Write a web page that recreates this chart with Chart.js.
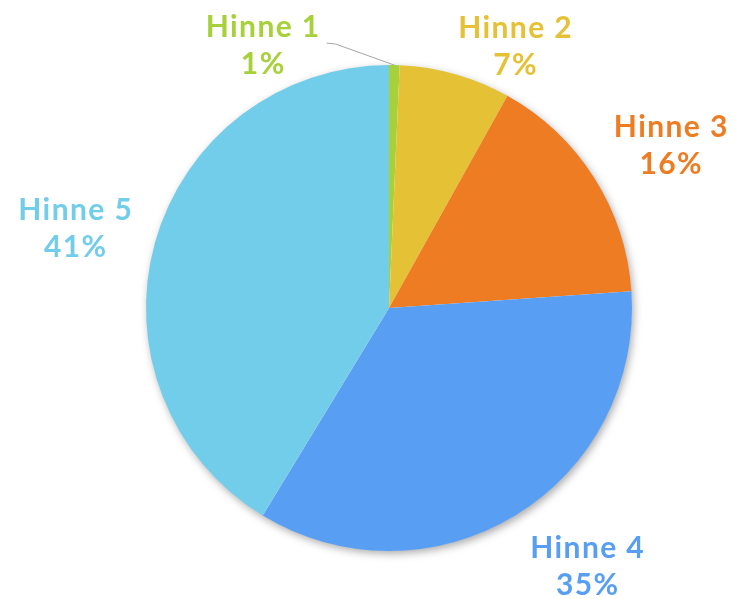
<!DOCTYPE html>
<html>
<head>
<meta charset="utf-8">
<script src="https://cdn.jsdelivr.net/npm/chart.js@4"></script>
<style>
  html, body { margin: 0; padding: 0; background: #ffffff; }
  #wrap { width: 736px; height: 599px; position: relative; }
</style>
</head>
<body>
<div id="wrap"><canvas id="c"></canvas></div>
<script>
// ---- data ----
const categories = ['Hinne 1', 'Hinne 2', 'Hinne 3', 'Hinne 4', 'Hinne 5'];
const shares = [0.7, 7.4, 15.8, 34.8, 41.3];
const percentLabels = ['1%', '7%', '16%', '35%', '41%'];
const sliceColors = ['#a6d13b', '#e5c135', '#ee7c23', '#589ff3', '#72cdeb'];

// ---- label layout (not data) ----
const labelLayout = {
  gap: 28,
  lineHeight: 37,
  font: 'bold 30px Lato, "Open Sans", sans-serif',
  letterSpacing: '1.4px',
  nudge: [[-133, 46], [37, 35], [5, 3], [28, -4], [3, 4]],
  leaderColor: '#a6a6a6'
};

const shadowPlugin = {
  id: 'pieShadow',
  beforeDatasetsDraw(chart) {
    const arc = chart.getDatasetMeta(0).data[0];
    if (!arc) return;
    const p = arc.getProps(['x', 'y', 'outerRadius'], true);
    const ctx = chart.ctx;
    ctx.save();
    ctx.shadowColor = 'rgba(0,0,0,0.35)';
    ctx.shadowBlur = 9;
    ctx.shadowOffsetX = 2;
    ctx.shadowOffsetY = 3;
    ctx.fillStyle = '#ffffff';
    ctx.beginPath();
    ctx.arc(p.x, p.y, p.outerRadius - 0.5, 0, Math.PI * 2);
    ctx.fill();
    ctx.restore();
  }
};

const labelPlugin = {
  id: 'outLabels',
  afterDatasetsDraw(chart) {
    const ctx = chart.ctx;
    const meta = chart.getDatasetMeta(0);
    ctx.save();
    ctx.font = labelLayout.font;
    if ('letterSpacing' in ctx) ctx.letterSpacing = labelLayout.letterSpacing;
    ctx.textAlign = 'center';
    ctx.textBaseline = 'middle';
    meta.data.forEach((arc, i) => {
      const p = arc.getProps(['x', 'y', 'startAngle', 'endAngle', 'outerRadius'], true);
      const mid = (p.startAngle + p.endAngle) / 2;
      const ux = Math.cos(mid), uy = Math.sin(mid);
      const l1 = categories[i], l2 = percentLabels[i];
      const w = Math.max(ctx.measureText(l1).width, ctx.measureText(l2).width);
      const h = labelLayout.lineHeight * 2;
      const px = p.x + (p.outerRadius + labelLayout.gap) * ux;
      const py = p.y + (p.outerRadius + labelLayout.gap) * uy;
      const cx = px + ux * w / 2 + labelLayout.nudge[i][0];
      const cy = py + uy * h / 2 + labelLayout.nudge[i][1];
      const frac = (p.endAngle - p.startAngle) / (Math.PI * 2);
      if (frac < 0.02) {
        const ex = p.x + p.outerRadius * ux;
        const ey = p.y + p.outerRadius * uy;
        const sx = cx + ctx.measureText(l1).width / 2 + 6;
        const sy = cy - 3;
        ctx.strokeStyle = labelLayout.leaderColor;
        ctx.lineWidth = 1;
        ctx.beginPath();
        ctx.moveTo(sx, sy);
        ctx.lineTo(sx + 9, sy + 1);
        ctx.lineTo(ex, ey);
        ctx.stroke();
      }
      ctx.fillStyle = sliceColors[i];
      ctx.fillText(l1, cx, cy - labelLayout.lineHeight / 2);
      ctx.fillText(l2, cx, cy + labelLayout.lineHeight / 2);
    });
    ctx.restore();
  }
};

new Chart(document.getElementById('c'), {
  type: 'pie',
  data: {
    labels: categories,
    datasets: [{
      data: shares,
      backgroundColor: sliceColors,
      borderWidth: 0
    }]
  },
  options: {
    responsive: true,
    maintainAspectRatio: false,
    animation: false,
    events: [],
    layout: { padding: { left: 146, right: 104, top: 65, bottom: 48 } },
    plugins: {
      legend: { display: false },
      tooltip: { enabled: false },
      title: { display: false }
    }
  },
  plugins: [shadowPlugin, labelPlugin]
});
</script>
</body>
</html>
